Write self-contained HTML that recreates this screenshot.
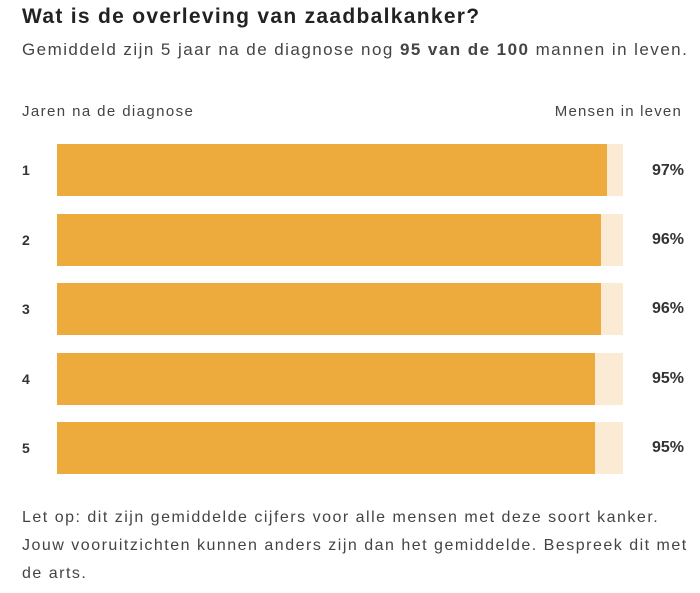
<!DOCTYPE html>
<html><head><meta charset="utf-8"><style>
body{margin:0;width:700px;height:593px;background:#fff;font-family:"Liberation Sans",sans-serif;color:#333;position:relative;overflow:hidden}
.a{position:absolute;white-space:nowrap}
.track{position:absolute;left:57px;width:566px;height:52px;background:#fcebd4}
.fill{position:absolute;left:0;top:0;height:52px;background:#edab3d}
.n{position:absolute;left:22px;font-weight:bold;font-size:14px;color:#333}
.p{position:absolute;right:16px;font-weight:bold;font-size:16px;color:#333}
</style></head><body>
<div class="a" style="left:22px;top:5px;font-size:21px;letter-spacing:1.3px;font-weight:bold;color:#222">Wat is de overleving van zaadbalkanker?</div>
<div class="a" style="left:22px;top:40px;font-size:17px;letter-spacing:1.45px;color:#444">Gemiddeld zijn 5 jaar na de diagnose nog <b>95 van de 100</b> mannen in leven.</div>
<div class="a" style="left:22px;top:103px;font-size:15px;letter-spacing:1.4px;color:#444">Jaren na de diagnose</div>
<div class="a" style="right:18px;top:103px;font-size:15px;letter-spacing:1.2px;color:#444">Mensen in leven</div>

<div class="track" style="top:144px"><div class="fill" style="width:550px"></div></div>
<div class="n" style="top:162px">1</div><div class="p" style="top:162px">97%</div>
<div class="track" style="top:214px"><div class="fill" style="width:544px"></div></div>
<div class="n" style="top:232px">2</div><div class="p" style="top:231px">96%</div>
<div class="track" style="top:283px"><div class="fill" style="width:544px"></div></div>
<div class="n" style="top:301px">3</div><div class="p" style="top:300px">96%</div>
<div class="track" style="top:353px"><div class="fill" style="width:538px"></div></div>
<div class="n" style="top:371px">4</div><div class="p" style="top:370px">95%</div>
<div class="track" style="top:422px"><div class="fill" style="width:538px"></div></div>
<div class="n" style="top:440px">5</div><div class="p" style="top:439px">95%</div>

<div class="a" style="left:22px;top:504px;font-size:16px;letter-spacing:1.5px;line-height:28px;color:#444">Let op: dit zijn gemiddelde cijfers voor alle mensen met deze soort kanker.<br>Jouw vooruitzichten kunnen anders zijn dan het gemiddelde. Bespreek dit met<br>de arts.</div>
</body></html>
